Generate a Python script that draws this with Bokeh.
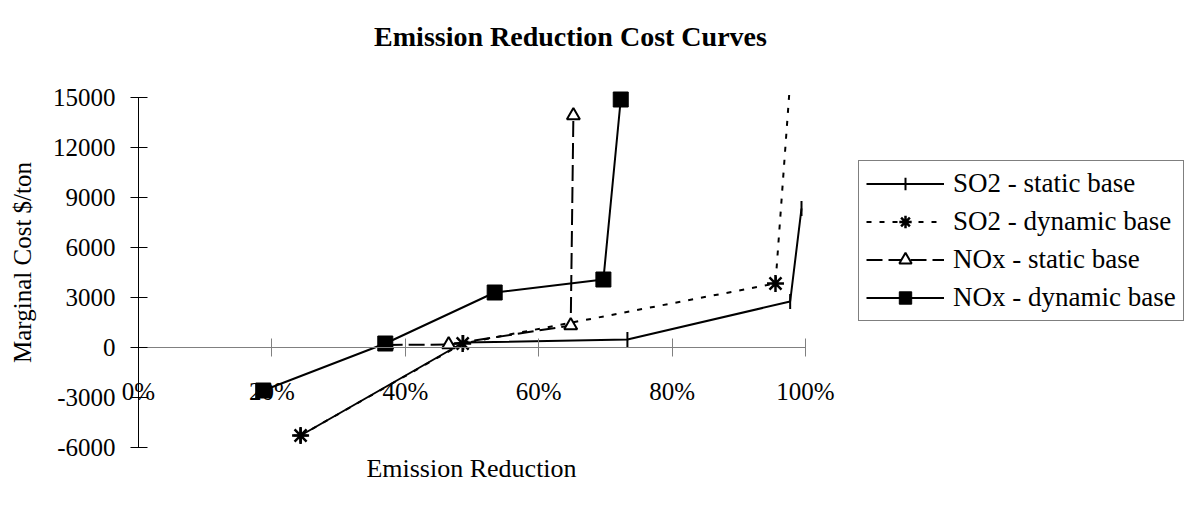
import math
from bokeh.plotting import figure
from bokeh.models import (Legend, LegendItem, FixedTicker, NumeralTickFormatter,
                          Range1d, Label)
from bokeh.embed import file_html
from bokeh.resources import INLINE

# ---- data ----
so2_static_x = [0.243, 0.487, 0.733, 0.977, 0.994]
so2_static_y = [-5280, 300, 480, 2760, 8340]

so2_dynamic_x = [0.243, 0.486, 0.955, 0.9755]
so2_dynamic_y = [-5280, 240, 3840, 15150]

nox_static_x = [0.372, 0.465, 0.648, 0.652]
nox_static_y = [150, 180, 1320, 13920]

nox_dynamic_x = [0.187, 0.370, 0.534, 0.697, 0.723]
nox_dynamic_y = [-2580, 240, 3300, 4080, 14880]

x_ticks = [0, 0.2, 0.4, 0.6, 0.8, 1.0]
y_ticks = [-6000, -3000, 0, 3000, 6000, 9000, 12000, 15000]

series_names = ["SO2 - static base", "SO2 - dynamic base",
                "NOx - static base", "NOx - dynamic base"]

title_text = "Emission Reduction Cost Curves"
x_title = "Emission Reduction"
y_title = "Marginal Cost $/ton"

X_MIN, X_MAX = x_ticks[0], x_ticks[-1]
Y_MIN, Y_MAX = y_ticks[0], y_ticks[-1]

FONT = "Liberation Serif"
FS = "25px"
W, H = 1186, 508

# The frame covers the whole canvas; axes cross at the origin.
# Scale: 667 px per 100 %, 50 px per 3000 $/ton.
p = figure(width=W, height=H, output_backend="svg", toolbar_location=None,
           title=None,
           x_range=Range1d(-0.20690, 1.57121), y_range=Range1d(-9660, 20820),
           min_border_left=0, min_border_right=0,
           min_border_top=0, min_border_bottom=0)
p.outline_line_color = None
p.grid.visible = False
p.background_fill_color = "white"
p.border_fill_color = "white"

# x axis crossing at y = 0
xa = p.xaxis[0]
xa.fixed_location = 0
xa.bounds = (X_MIN, X_MAX)
xa.ticker = FixedTicker(ticks=x_ticks)
xa.formatter = NumeralTickFormatter(format="0%")
xa.axis_line_color = "#808080"
xa.major_tick_line_color = "#808080"
xa.major_tick_in = 9
xa.major_tick_out = 9
xa.minor_tick_line_color = None
xa.major_label_standoff = 21
xa.major_label_text_font = FONT
xa.major_label_text_font_size = FS
xa.major_label_text_color = "black"

# y axis at x = 0
ya = p.yaxis[0]
ya.fixed_location = 0
ya.bounds = (Y_MIN, Y_MAX)
ya.ticker = FixedTicker(ticks=y_ticks)
ya.formatter = NumeralTickFormatter(format="0")
ya.axis_line_color = "black"
ya.major_tick_line_color = "black"
ya.major_tick_in = 9
ya.major_tick_out = 8
ya.minor_tick_line_color = None
ya.major_label_standoff = 15
ya.major_label_text_font = FONT
ya.major_label_text_font_size = FS
ya.major_label_text_color = "black"

# titles (screen units, measured from the bottom-left of the canvas)
p.add_layout(Label(x=570, y=H - 36, x_units="screen", y_units="screen",
                   text=title_text, text_font=FONT, text_font_size="28px",
                   text_font_style="bold", text_color="black",
                   text_align="center", text_baseline="middle"))
p.add_layout(Label(x=471, y=H - 468, x_units="screen", y_units="screen",
                   text=x_title, text_font=FONT, text_font_size="26px",
                   text_color="black", text_align="center",
                   text_baseline="middle"))
p.add_layout(Label(x=22, y=H - 262, x_units="screen", y_units="screen",
                   text=y_title, text_font=FONT, text_font_size=FS,
                   text_color="black", text_align="center",
                   text_baseline="middle", angle=math.pi / 2))


def visible(xs, ys):
    pts = [(x, y) for x, y in zip(xs, ys) if Y_MIN <= y <= Y_MAX]
    return [a for a, _ in pts], [b for _, b in pts]


# series
l2 = p.line(so2_dynamic_x, so2_dynamic_y, line_color="black", line_width=2,
            line_dash="5 8")
l1 = p.line(so2_static_x, so2_static_y, line_color="black", line_width=2)
mx, my = visible(so2_static_x, so2_static_y)
m1 = p.scatter(mx, my, marker="dash", angle=math.pi / 2,
               size=15, line_color="black", line_width=2)
# legend sample of the static-base tick marker (sits under the first asterisk)
m1_leg = p.scatter(x=so2_static_x[:1], y=so2_static_y[:1], marker="cross",
                   size=14, line_color="black", line_width=2)

mx, my = visible(so2_dynamic_x, so2_dynamic_y)
m2 = p.scatter(mx, my, marker="asterisk", size=17,
               line_color="black", line_width=2.5)

l3 = p.line(nox_static_x, nox_static_y, line_color="black", line_width=2,
            line_dash="16 6")
mx, my = visible(nox_static_x, nox_static_y)
m3 = p.scatter(mx, my, marker="triangle", size=13,
               line_color="black", fill_color="white", line_width=2)

l4 = p.line(nox_dynamic_x, nox_dynamic_y, line_color="black", line_width=2)
mx, my = visible(nox_dynamic_x, nox_dynamic_y)
m4 = p.scatter(mx, my, marker="square", size=15,
               line_color="black", fill_color="black", line_width=1)

items = [LegendItem(label=series_names[0], renderers=[l1, m1_leg]),
         LegendItem(label=series_names[1], renderers=[l2, m2]),
         LegendItem(label=series_names[2], renderers=[l3, m3]),
         LegendItem(label=series_names[3], renderers=[l4, m4])]

legend = Legend(items=items, location=(858, H - 321), margin=0, padding=7,
                spacing=7, glyph_width=78, glyph_height=31, label_height=31,
                label_standoff=9, label_text_font=FONT, label_text_font_size="27px",
                label_text_color="black", border_line_color="black",
                border_line_width=1, background_fill_color="white",
                background_fill_alpha=1.0)
p.add_layout(legend, "center")

open("out.html", "w").write(file_html(p, INLINE))
